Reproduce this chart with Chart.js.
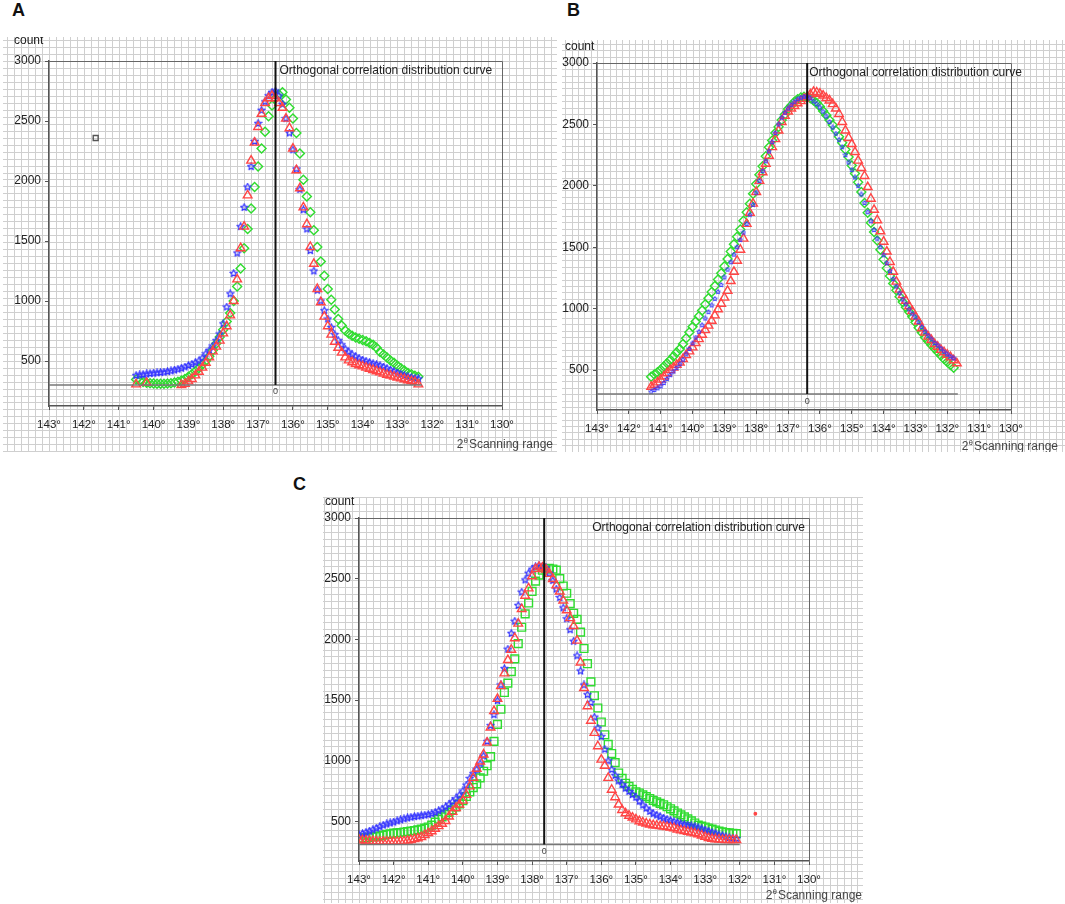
<!DOCTYPE html>
<html><head><meta charset="utf-8">
<script src="https://cdn.jsdelivr.net/npm/chart.js@4.4.1/dist/chart.umd.min.js"></script>
<style>
html,body{margin:0;padding:0;background:#fff;width:1065px;height:904px;overflow:hidden;}
canvas{position:absolute;}
.lbl{position:absolute;font:bold 18px "Liberation Sans",Arial,sans-serif;color:#111;line-height:20px;}
</style></head><body>
<div class="lbl" style="left:12px;top:0px">A</div>
<div class="lbl" style="left:567px;top:0px">B</div>
<div class="lbl" style="left:293px;top:474px">C</div>
<canvas id="cA" width="554" height="415" style="left:3px;top:37px;width:554px;height:415px"></canvas>
<canvas id="cB" width="503" height="412" style="left:562px;top:40px;width:503px;height:412px"></canvas>
<canvas id="cC" width="540" height="406" style="left:323px;top:497px;width:540px;height:406px"></canvas>
<script>
// ---------- data ----------
const X_TICKS = [143,142,141,140,139,138,137,136,135,134,133,132,131,130];
const Y_TICKS = [500,1000,1500,2000,2500,3000];
const TITLE = "Orthogonal correlation distribution curve";
const SCAN_STEP = 0.1;   // scan step in degrees

// Panel A: scan from 140.5° down to 132.4°
const A_X0 = 140.5;
const A_RED = [305,null,null,318,null,null,null,null,null,null,
 null,null,null,300,310,330,350,380,410,445,
 485,530,580,620,670,730,790,880,1000,1180,
 1440,1620,1880,2170,2320,2450,2560,2650,2690,2710,
 2690,2650,2610,2520,2440,2270,2090,1940,1780,1640,
 1450,1310,1100,990,870,790,720,660,610,570,
 530,505,490,475,465,455,445,435,425,415,
 405,395,385,378,370,362,355,348,340,333,
 326,305];
const A_BLUE = [380,384,388,392,396,399,402,405,408,412,
 418,425,432,440,450,462,472,485,500,525,
 560,590,625,670,725,810,950,1060,1230,1400,
 1620,1780,1950,2120,2330,2480,2590,2660,2710,2740,
 2750,2710,2640,2520,2400,2260,2100,1930,1760,1600,
 1420,1250,1090,1000,920,850,780,720,672,635,
 600,575,553,535,520,508,498,488,478,470,
 462,450,438,425,412,400,390,380,370,362,
 356,352];
const A_GREEN = [345,335,325,318,315,312,310,310,310,312,
 315,320,328,338,350,368,390,415,440,470,
 500,540,590,645,700,760,830,900,1000,1120,
 1270,1440,1600,1770,1950,2120,2270,2410,2540,2630,
 2690,2720,2740,2680,2610,2520,2400,2230,2010,1870,
 1740,1590,1450,1330,1210,1100,1010,930,850,795,
 755,730,710,695,685,675,665,650,635,610,
 575,555,530,505,485,460,440,420,400,390,
 378,368];
const A_STRAY = [{x:141.66, y:2358}];
const A_VLINE = 136.5, A_BASE = 300, A_BASE_END = 132.3, A_YMIN = 125;

// Panel B: scan from 141.3° down to 131.7°
const B_X0 = 141.3;
const B_RED = [364,380,400,422,448,474,500,520,542,562,
 590,622,652,685,720,752,788,825,862,902,
 945,995,1040,1090,1145,1225,1300,1390,1480,1570,
 1690,1780,1855,1950,2040,2110,2180,2245,2315,2380,
 2450,2520,2570,2605,2630,2650,2672,2690,2708,2725,
 2745,2765,2760,2750,2735,2715,2695,2665,2630,2585,
 2520,2450,2390,2340,2275,2205,2145,2080,1990,1895,
 1805,1720,1630,1545,1465,1380,1300,1220,1155,1110,
 1065,1020,980,935,895,840,805,772,745,712,
 690,665,645,625,605,580,555];
const B_GREEN = [446,465,482,503,530,556,582,612,643,672,
 712,760,808,852,895,938,985,1035,1085,1135,
 1185,1238,1288,1345,1405,1465,1525,1585,1645,1715,
 1785,1855,1935,2015,2090,2160,2240,2315,2370,2430,
 2480,2535,2580,2625,2655,2685,2705,2720,2726,2722,
 2712,2695,2674,2645,2610,2575,2535,2495,2450,2400,
 2350,2295,2235,2165,2100,2030,1950,1860,1780,1700,
 1625,1555,1480,1400,1330,1265,1205,1150,1098,1055,
 1012,975,935,890,845,805,765,735,705,675,
 648,618,590,565,542,518,null];
const B_BLUE = [323,338,352,368,395,428,459,488,518,548,
 585,628,672,718,765,812,865,920,972,1027,
 1080,1137,1193,1255,1318,1378,1440,1500,1560,1620,
 1690,1765,1845,1945,2040,2120,2200,2280,2355,2430,
 2500,2555,2595,2630,2660,2685,2705,2718,2726,2728,
 2712,2688,2665,2638,2605,2565,2520,2475,2425,2375,
 2315,2250,2190,2130,2068,2000,1930,1860,1785,1712,
 1640,1570,1500,1435,1370,1305,1240,1180,1125,1075,
 1035,995,960,930,890,850,812,780,750,720,
 700,675,650,628,610,595,null];
const B_VLINE = 136.4, B_BASE = 305, B_BASE_END = 131.67, B_YMIN = 175;

// Panel C: scan from 143.0° down to 132.1°
const C_X0 = 143.0;
const C_BLUE = [390,400,411,421,432,445,458,470,480,488,
 496,505,514,522,530,536,541,545,549,553,
 558,565,575,588,602,620,640,663,688,718,
 752,800,855,895,930,975,1040,1160,1290,1380,
 1495,1625,1760,1920,2050,2150,2280,2390,2490,2545,
 2578,2600,2605,2603,2590,2545,2485,2415,2345,2260,
 2170,2080,1985,1865,1740,1625,1545,1480,1360,1270,
 1200,1095,1000,928,880,835,805,775,748,722,
 700,668,636,610,584,565,553,540,528,518,
 508,500,490,482,476,470,464,458,448,440,
 430,420,410,400,390,382,374,368,363,360];
const C_RED = [350,346,342,340,338,336,334,334,334,334,
 334,334,336,339,343,348,355,362,372,388,
 405,420,440,462,482,505,542,580,612,640,
 672,720,790,860,935,995,1052,1150,1275,1410,
 1510,1615,1720,1830,1915,2010,2130,2250,2360,2420,
 2520,2580,2598,2592,2575,2540,2498,2445,2395,2320,
 2240,2175,2110,1990,1810,1600,1450,1330,1230,1120,
 1010,960,860,762,700,640,595,568,548,533,
 518,503,492,484,476,470,466,462,459,455,
 450,445,433,427,421,415,409,403,395,385,
 374,364,358,354,351,349,348,348,348,348];
const C_GREEN = [360,363,366,369,373,376,382,388,394,399,
 404,407,410,414,418,422,426,431,438,446,
 455,470,495,520,538,557,576,596,620,645,
 672,706,745,780,810,860,914,960,1035,1160,
 1300,1425,1563,1640,1735,1840,1965,2100,2210,2300,
 2395,2480,2530,2570,2582,2586,2580,2570,2500,2440,
 2380,2295,2215,2165,2060,1925,1800,1650,1536,1435,
 1320,1215,1135,1060,985,900,855,815,790,765,
 745,735,720,705,690,675,662,650,638,622,
 605,588,570,555,538,522,505,488,470,462,
 455,447,438,430,421,415,410,406,403,400];
const C_STRAY = [{x:131.55, y:564}];
const C_VLINE = 137.65, C_BASE = 310, C_BASE_END = 132.0, C_YMIN = 175;

// ---------- styling ----------
const FONT = '"Liberation Sans", Arial, sans-serif';
const RED = '#ff4545', BLUE = '#3434ff', GREEN = '#2fdc2f';

function toPts(x0, ys){
  return ys.map((y,i)=>({x: Math.round((x0 - i*SCAN_STEP)*100)/100, y: y}));
}
function starImg(size, color, lw){
  const c = document.createElement('canvas'); c.width = size; c.height = size;
  const g = c.getContext('2d'); g.strokeStyle = color; g.lineWidth = lw; g.lineJoin='round';
  const cx = size/2, cy = size/2, R = size/2 - lw*0.6, r = R*0.45;
  g.beginPath();
  for (let k=0;k<10;k++){
    const a = -Math.PI/2 + k*Math.PI/5, rr = (k%2)? r : R;
    const px = cx + rr*Math.cos(a), py = cy + rr*Math.sin(a);
    if (k) g.lineTo(px,py); else g.moveTo(px,py);
  }
  g.closePath(); g.stroke();
  return c;
}

const paper = {
  id: 'paper',
  beforeDraw(chart, args, o){
    const {ctx, width, height, chartArea: ca, scales} = chart;
    const step = Math.abs(scales.x.getPixelForValue(143) - scales.x.getPixelForValue(142.8));
    ctx.save();
    ctx.fillStyle = '#fff'; ctx.fillRect(0,0,width,height);
    ctx.strokeStyle = '#cfcfcf'; ctx.lineWidth = 1;
    ctx.beginPath();
    for (let x = ca.left % step; x <= width; x += step){ const p = Math.round(x)+0.5; ctx.moveTo(p,0); ctx.lineTo(p,height); }
    for (let y = ca.top % step; y <= height; y += step){ const p = Math.round(y)+0.5; ctx.moveTo(0,p); ctx.lineTo(width,p); }
    ctx.stroke();
    ctx.restore();
  },
  beforeDatasetsDraw(chart){
    const {ctx, chartArea: ca} = chart;
    ctx.save(); ctx.strokeStyle = '#666'; ctx.lineWidth = 1;
    ctx.beginPath();
    ctx.moveTo(ca.left, Math.round(ca.top)+0.5);
    ctx.lineTo(Math.round(ca.right)+0.5, Math.round(ca.top)+0.5);
    ctx.lineTo(Math.round(ca.right)+0.5, ca.bottom);
    ctx.stroke(); ctx.restore();
  },
  afterDraw(chart, args, o){
    const {ctx, chartArea: ca, scales: {x, y}, width} = chart;
    ctx.save();
    ctx.fillStyle = '#222'; ctx.textBaseline = 'middle';
    ctx.font = '12px ' + FONT; ctx.textAlign = 'left';
    ctx.fillText('count', ca.left + o.countDX, ca.top + o.countDY);
    const vx = x.getPixelForValue(o.vline);
    if (o.titleMode === 'left'){ ctx.textAlign = 'left'; ctx.fillText(TITLE, vx + o.titleDX, ca.top + 10); }
    else { ctx.textAlign = 'right'; ctx.fillText(TITLE, ca.right + o.titleDX, ca.top + 10); }
    ctx.font = '9px ' + FONT; ctx.textAlign = 'center'; ctx.fillStyle = '#444';
    ctx.fillText('0', vx, y.getPixelForValue(o.base) + 7);
    // "2θScanning range"
    ctx.fillStyle = '#444'; ctx.textAlign = 'left';
    const big = '12px ' + FONT, small = '8px ' + FONT;
    ctx.font = big; const w1 = ctx.measureText('2').width, w3 = ctx.measureText('Scanning range').width;
    ctx.font = small; const w2 = ctx.measureText('θ').width;
    const yy = ca.bottom + o.scanDY;
    let sx = width - o.scanRight - (w1 + w2 + w3 + 1);
    ctx.font = big; ctx.fillText('2', sx, yy); sx += w1;
    ctx.font = small; ctx.fillText('θ', sx, yy - 4); sx += w2 + 1;
    ctx.font = big; ctx.fillText('Scanning range', sx, yy);
    ctx.restore();
  }
};

function markerSet(label, data, style, color, radius, extra){
  return Object.assign({label, data, pointStyle: style, pointRadius: radius, pointHoverRadius: radius,
    borderColor: color, backgroundColor: 'rgba(0,0,0,0)', pointBorderWidth: 1.4, showLine: false}, extra||{});
}
function lineSet(data, color, w){
  return {data, showLine: true, pointRadius: 0, borderColor: color, borderWidth: w, fill: false};
}

function makeChart(id, ymin, datasets, L){
  const tickGrid = {display: true, drawOnChartArea: false, drawTicks: true, tickLength: 4, color: '#555', lineWidth: 1};
  return new Chart(document.getElementById(id), {
    type: 'scatter',
    data: {datasets},
    options: {
      responsive: false, animation: false, events: [],
      layout: {padding: {top: L.padTop, right: L.padRight, left: 0, bottom: 0}},
      plugins: {legend: {display: false}, tooltip: {enabled: false}, paper: L},
      scales: {
        x: {type: 'linear', reverse: true, min: 130, max: 143,
          afterBuildTicks: s => { s.ticks = X_TICKS.map(v => ({value: v})); },
          afterFit: s => { s.height = L.xh; },
          grid: tickGrid, border: {display: true, color: '#555', width: 1.5},
          ticks: {padding: 8, color: '#222', font: {family: FONT, size: 11.5}, maxRotation: 0, autoSkip: false,
            callback: v => v + '°'}},
        y: {type: 'linear', min: ymin, max: 3000,
          afterBuildTicks: s => { s.ticks = Y_TICKS.map(v => ({value: v})); },
          afterFit: s => { s.width = L.yw; },
          grid: tickGrid, border: {display: true, color: '#555', width: 1.5},
          ticks: {padding: 4, color: '#222', font: {family: FONT, size: 12}, callback: v => String(v)}}
      }
    },
    plugins: [paper]
  });
}

const starBig = starImg(9, BLUE, 1.2), starSmall = starImg(6, BLUE, 1);

makeChart('cA', A_YMIN, [
  lineSet([{x:A_VLINE,y:3000},{x:A_VLINE,y:A_BASE}], '#111', 2),
  lineSet([{x:143,y:A_BASE},{x:A_BASE_END,y:A_BASE}], '#777', 1.5),
  markerSet('red', toPts(A_X0, A_RED), 'triangle', RED, 5),
  markerSet('blue', toPts(A_X0, A_BLUE), starBig, BLUE, 4),
  markerSet('green', toPts(A_X0, A_GREEN), 'rectRot', GREEN, 4.5),
  markerSet('stray', A_STRAY, 'rect', '#555', 3.5)
], {padTop: 24, padRight: 55, yw: 46, xh: 46, countDX: -35, countDY: -20,
    titleMode: 'left', titleDX: 4, scanRight: 4, scanDY: 39, vline: A_VLINE, base: A_BASE});

makeChart('cB', B_YMIN, [
  lineSet([{x:B_VLINE,y:3000},{x:B_VLINE,y:B_BASE}], '#111', 2),
  lineSet([{x:143,y:B_BASE},{x:B_BASE_END,y:B_BASE}], '#777', 1.5),
  markerSet('blue', toPts(B_X0, B_BLUE), starSmall, BLUE, 3),
  markerSet('red', toPts(B_X0, B_RED), 'triangle', RED, 5),
  markerSet('green', toPts(B_X0, B_GREEN), 'rectRot', GREEN, 4.5)
], {padTop: 23, padRight: 54, yw: 35, xh: 42, countDX: -32, countDY: -16,
    titleMode: 'left', titleDX: 2, scanRight: 7, scanDY: 37, vline: B_VLINE, base: B_BASE});

makeChart('cC', C_YMIN, [
  lineSet([{x:C_VLINE,y:3000},{x:C_VLINE,y:C_BASE}], '#111', 2),
  lineSet([{x:143,y:C_BASE},{x:C_BASE_END,y:C_BASE}], '#777', 1.5),
  markerSet('red', toPts(C_X0, C_RED), 'triangle', RED, 5),
  markerSet('blue', toPts(C_X0, C_BLUE), starBig, BLUE, 4),
  markerSet('green', toPts(C_X0, C_GREEN), 'rect', GREEN, 5.5),
  markerSet('stray', C_STRAY, 'circle', RED, 1.2, {backgroundColor: RED})
], {padTop: 21, padRight: 54, yw: 36, xh: 42, countDX: -34, countDY: -16,
    titleMode: 'right', titleDX: -4, scanRight: 1, scanDY: 35, vline: C_VLINE, base: C_BASE});
</script>
</body></html>
